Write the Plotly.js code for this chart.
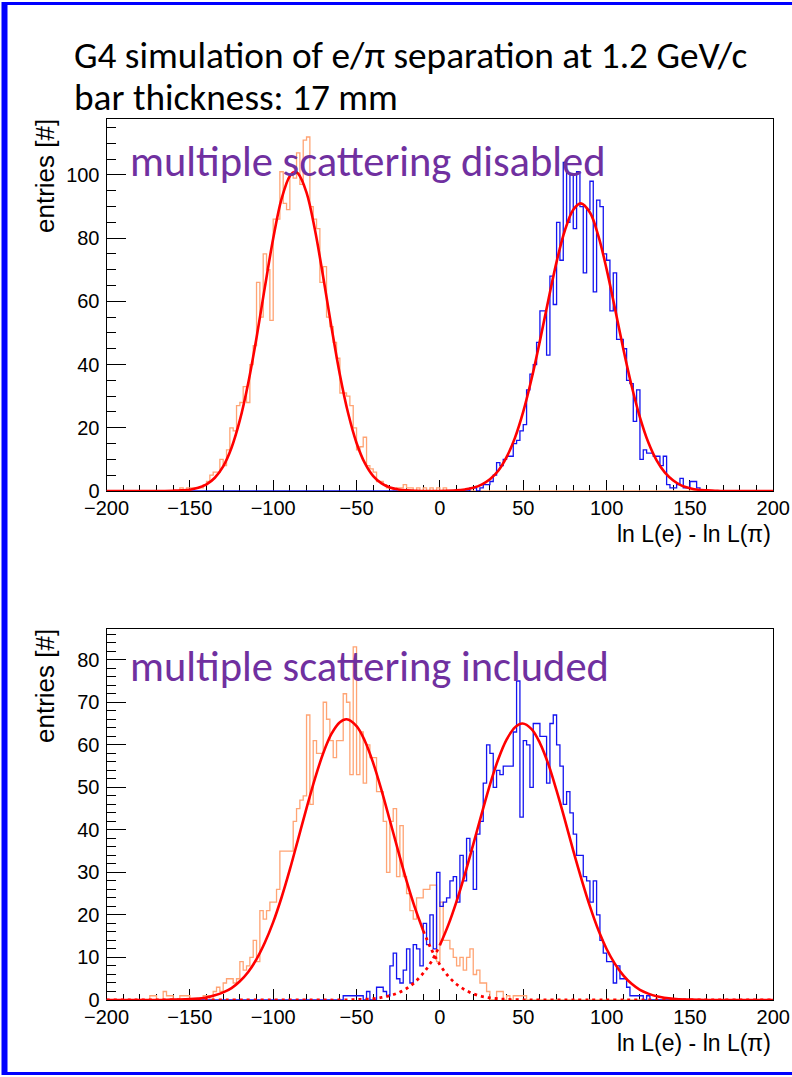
<!DOCTYPE html>
<html>
<head>
<meta charset="utf-8">
<script src="https://cdn.plot.ly/plotly-3.0.1.min.js"></script>
<style>
html, body { margin: 0; padding: 0; background: #ffffff; }
#chart { width: 792px; height: 1077px; }
</style>
</head>
<body>
<div id="chart"></div>
<script>
// ---------------- data ----------------
const binWidth = 2;
const xRange = [-200, 200];

// top panel: multiple scattering disabled
const topOrangeStart = -156;
const topOrangeCounts = [1,0,1,1,1,1,1,2,3,5,6,6,10,8,13,20,19,27,28,33,28,40,46,66,55,75,70,54,86,86,101,91,89,100,99,107,97,111,112,90,86,83,66,71,55,52,47,42,31,31,30,27,20,13,14,17,8,7,6,3,3,2,1,1,0,1,1,2,1,1,0,1,0,1,0,1,0,1,0,1];
const topBlueStart = 18;
const topBlueCounts = [1,1,0,1,2,2,3,5,9,8,10,11,11,15,16,19,21,32,37,40,47,57,57,43,68,59,85,73,104,85,100,83,101,90,69,89,98,63,92,90,75,73,57,69,48,48,45,35,34,22,32,10,13,12,12,11,11,8,11,2,1,1,2,4,1,1,3,3,1];
const topFitX = [-200,-170,-160,-155,-150,-145,-140,-135,-130,-125,-120,-115,-110,-105,-100,-95,-90,-87,-85,-80,-75,-70,-65,-60,-55,-50,-45,-40,-35,-30,-25,-20,-15,-10,0,10,15,20,25,30,35,40,45,50,55,60,65,70,75,80,84.5,90,95,100,105,110,115,120,125,130,135,140,145,150,155,160,165,170,200];
const topFitY = [0,0,0.1,0.2,0.4,1.0,2.1,4.2,7.8,13.7,22.4,34.1,48.5,64.5,79.9,92.4,99.7,101,100.4,94.4,82.7,67.7,51.7,36.8,24.5,15.2,8.8,4.7,2.4,1.1,0.5,0.2,0.1,0,0,0.2,0.5,1.0,2.0,3.7,6.4,10.7,16.8,25.1,35.5,47.5,60.3,72.5,82.5,89.0,91,88.1,80.8,70.2,57.8,45.0,33.3,23.3,15.4,9.7,5.8,3.3,1.7,0.9,0.4,0.2,0.1,0,0];

// bottom panel: multiple scattering included
const botOrangeStart = -174;
const botOrangeCounts = [1,1,0,0,2,1,1,0,0,1,1,1,0,0,0,0,1,1,0,2,3,2,4,5,5,4,5,9,7,8,10,14,9,21,19,21,23,23,26,35,35,35,35,42,45,47,48,67,46,61,58,58,70,66,61,57,61,61,72,70,53,83,53,63,51,60,57,57,49,49,42,30,42,45,29,41,29,25,21,19,24,24,26,26,27,27,9,23,14,14,12,10,8,10,7,10,12,6,7,4,4,2,0,0,2,2,0,1,0,1,1,1,1];
const botBlueStart = -58;
const botBlueCounts = [1,1,1,1,1,1,0,2,0,0,3,3,2,1,8,11,5,4,7,12,4,13,12,8,18,13,20,12,30,22,23,24,28,29,23,34,28,38,35,26,39,42,51,60,58,50,54,53,55,55,55,63,75,43,61,60,50,65,65,62,62,51,65,67,60,55,46,49,44,39,34,34,29,28,23,28,20,14,11,9,9,4,8,5,5,3,1,1,1,1,0,1];
const botOrangeFitX = [-200,-180,-170,-160,-150,-145,-140,-135,-130,-125,-120,-115,-110,-105,-100,-95,-90,-85,-80,-75,-70,-65,-60,-56,-50,-45,-40,-35,-30,-25,-20,-15,-10,-5,0,5,10,15,20,25,30,35,40,50,60,80,200];
const botOrangeFitY = [0,0,0,0.1,0.2,0.35,0.6,1.1,1.8,2.8,4.4,6.6,9.6,13.5,18.3,24.1,30.7,37.9,45.1,52.0,58.0,62.6,65.3,66,64.4,60.9,55.7,49.3,42.2,35.0,28.0,21.7,16.3,11.8,8.3,5.6,3.7,2.4,1.45,0.86,0.5,0.28,0.15,0.04,0,0,0];
const botOrangeSolidMax = -10;   // fit drawn solid up to here, dotted beyond
const botBlueFitX = [-200,-100,-70,-60,-50,-40,-35,-30,-25,-20,-15,-10,-5,0,5,10,15,20,25,30,35,40,45,49.5,55,60,65,70,75,80,85,90,95,100,105,110,115,120,125,130,140,150,160,200];
const botBlueFitY = [0,0,0,0,0.1,0.3,0.6,1.0,1.7,2.7,4.2,6.3,9.1,12.9,17.6,23.2,29.6,36.6,43.7,50.6,56.6,61.2,64.1,65,63.7,60.4,55.5,49.2,42.3,35.1,28.3,22.0,16.5,12.0,8.5,5.8,3.8,2.4,1.5,0.9,0.3,0.1,0,0];
const botBlueSolidMin = 0;       // fit drawn dotted below here, solid above

const titleLines = ['G4 simulation of e/\u03c0 separation at 1.2 GeV/c', 'bar thickness: 17 mm'];
const panelLabels = ['multiple scattering disabled', 'multiple scattering included'];
const xTitle = 'ln L(e) - ln L(\u03c0)';
const yTitle = 'entries [#]';

// ---------------- styles ----------------
const W = 792, H = 1077;
const orangeCol = '#ffa474';
const blueCol = '#1414f0';
const redCol = '#ff0000';
const purple = '#7030a0';
const tickFont = {family: '"Liberation Sans Narrow", "Arial Narrow", "Liberation Sans", Arial, sans-serif', size: 20, color: '#000'};
const titleFont = {family: '"Liberation Sans", Arial, sans-serif', size: 23, color: '#000'};
const yTitleFont = {family: '"Liberation Sans", Arial, sans-serif', size: 26, color: '#000'};
const calFont = 'Carlito, Calibri, Lato, "Open Sans", sans-serif';

function histTrace(start, counts, xa, ya, color) {
  const xs = [], ys = [];
  for (let e = xRange[0]; e < xRange[1]; e += binWidth) {
    const i = Math.round((e - start) / binWidth);
    xs.push(e);
    ys.push(i >= 0 && i < counts.length ? counts[i] : 0);
  }
  xs.push(xRange[1]); ys.push(ys[ys.length - 1]);
  return {type: 'scatter', mode: 'lines', x: xs, y: ys, xaxis: xa, yaxis: ya,
    line: {shape: 'hv', color: color, width: 1.3}, cliponaxis: false, hoverinfo: 'skip', showlegend: false};
}
function fitTrace(xs, ys, xa, ya, dotted, keep) {
  const fx = [], fy = [];
  xs.forEach((v, i) => { if (keep(v)) { fx.push(v); fy.push(ys[i]); } });
  return {type: 'scatter', mode: 'lines', x: fx, y: fy, xaxis: xa, yaxis: ya,
    line: {shape: 'spline', smoothing: 1, color: redCol, width: dotted ? 2.8 : 2.6, dash: dotted ? '3px,4px' : 'solid'},
    cliponaxis: false, hoverinfo: 'skip', showlegend: false};
}

const traces = [
  histTrace(topOrangeStart, topOrangeCounts, 'x', 'y', orangeCol),
  histTrace(topBlueStart, topBlueCounts, 'x', 'y', blueCol),
  fitTrace(topFitX, topFitY, 'x', 'y', false, v => true),
  histTrace(botOrangeStart, botOrangeCounts, 'x2', 'y2', orangeCol),
  histTrace(botBlueStart, botBlueCounts, 'x2', 'y2', blueCol),
  fitTrace(botOrangeFitX, botOrangeFitY, 'x2', 'y2', false, v => v <= botOrangeSolidMax),
  fitTrace(botOrangeFitX, botOrangeFitY, 'x2', 'y2', true, v => v >= botOrangeSolidMax),
  fitTrace(botBlueFitX, botBlueFitY, 'x2', 'y2', true, v => v <= botBlueSolidMin),
  fitTrace(botBlueFitX, botBlueFitY, 'x2', 'y2', false, v => v >= botBlueSolidMin)
];

function xAxis(anchor) {
  return {domain: [106.5 / W, 773.3 / W], anchor: anchor, range: xRange, tick0: 0, dtick: 50,
    ticks: 'inside', ticklen: 11, tickwidth: 1, tickcolor: '#000',
    showline: true, mirror: true, linecolor: '#000', linewidth: 1,
    showgrid: false, zeroline: false, tickfont: tickFont, ticklabelstandoff: -1,
    minor: {dtick: 10, ticks: 'inside', ticklen: 6, tickwidth: 1, tickcolor: '#000', showgrid: false},
    layer: 'below traces', fixedrange: true};
}
function yAxis(anchor, top, bottom, ymax, dtick, mdtick) {
  return {domain: [1 - bottom / H, 1 - top / H], anchor: anchor, range: [0, ymax], tick0: 0, dtick: dtick,
    ticks: 'inside', ticklen: 19, tickwidth: 1, tickcolor: '#000',
    showline: true, mirror: true, linecolor: '#000', linewidth: 1,
    showgrid: false, zeroline: false, tickfont: tickFont, ticklabelstandoff: 2,
    minor: {dtick: mdtick, ticks: 'inside', ticklen: 9.5, tickwidth: 1, tickcolor: '#000', showgrid: false},
    layer: 'below traces', fixedrange: true};
}

function ann(text, px, py, font, xanchor, extra) {
  return Object.assign({text: text, xref: 'paper', yref: 'paper', x: px / W, y: 1 - py / H,
    xanchor: xanchor, yanchor: 'middle', showarrow: false, font: font}, extra || {});
}

const annotations = [
  ann(titleLines[0], 72, 55, {family: calFont, size: 37.3, color: '#000'}, 'left'),
  ann(titleLines[1], 72, 97, {family: calFont, size: 37.3, color: '#000'}, 'left'),
  ann(panelLabels[0], 128, 161, {family: calFont, size: 42.5, color: purple}, 'left'),
  ann(panelLabels[1], 128, 666, {family: calFont, size: 42.5, color: purple}, 'left'),
  ann(xTitle, 773, 534, titleFont, 'right'),
  ann(xTitle, 773, 1043, titleFont, 'right'),
  Object.assign(ann(yTitle, 45, 117, yTitleFont, 'center'), {yanchor: 'top', textangle: -90}),
  Object.assign(ann(yTitle, 45, 627, yTitleFont, 'center'), {yanchor: 'top', textangle: -90})
];

const shapes = [
  {type: 'line', xref: 'paper', yref: 'paper', x0: 4.5 / W, x1: 4.5 / W, y0: 1 - 1075 / H, y1: 1 - 2 / H, line: {color: '#0000ff', width: 6}},
  {type: 'line', xref: 'paper', yref: 'paper', x0: 2 / W, x1: 1, y0: 1 - 3.5 / H, y1: 1 - 3.5 / H, line: {color: '#0000ff', width: 3}},
  {type: 'line', xref: 'paper', yref: 'paper', x0: 2 / W, x1: 1, y0: 1 - 1073.5 / H, y1: 1 - 1073.5 / H, line: {color: '#0000ff', width: 3}}
];

const layout = {
  width: W, height: H, autosize: false,
  margin: {l: 0, r: 0, t: 0, b: 0, pad: 0},
  paper_bgcolor: '#ffffff', plot_bgcolor: '#ffffff',
  showlegend: false,
  xaxis: xAxis('y'),
  yaxis: yAxis('x', 119.3, 491, 117.6, 20, 5),
  xaxis2: xAxis('y2'),
  yaxis2: yAxis('x2', 629.3, 1000, 87.15, 10, 2),
  annotations: annotations,
  shapes: shapes
};

Plotly.newPlot('chart', traces, layout, {staticPlot: true, displayModeBar: false});
</script>
</body>
</html>
